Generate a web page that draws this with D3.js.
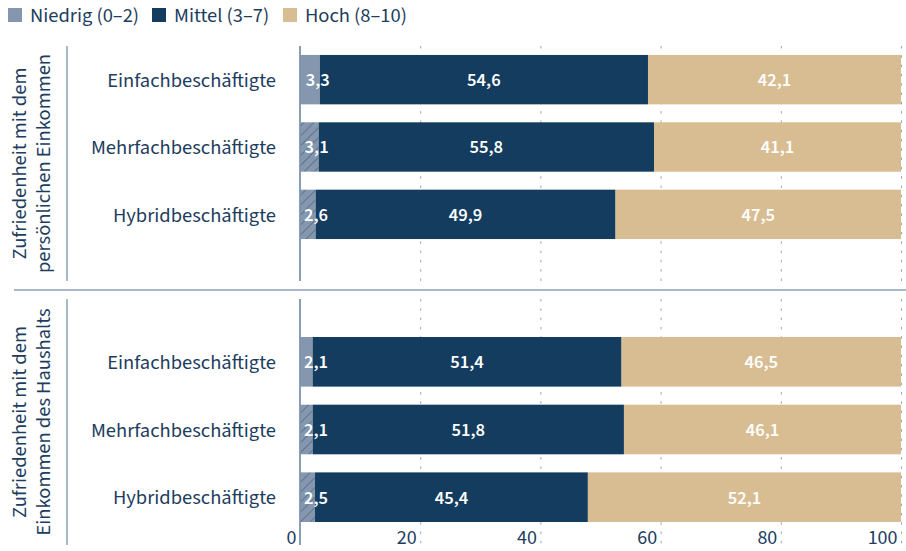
<!DOCTYPE html>
<html><head><meta charset="utf-8">
<script src="https://cdn.jsdelivr.net/npm/d3@7"></script>
<style>
html,body{margin:0;padding:0;background:#fff;}
svg{display:block;font-family:"Source Sans Pro","Source Sans 3",Lato,"Noto Sans",sans-serif;}
</style></head>
<body><svg id="chart" width="906" height="551"></svg>
<script>
const categories = ["Einfachbeschäftigte", "Mehrfachbeschäftigte", "Hybridbeschäftigte"];
const panelLabels = [["Zufriedenheit mit dem", "persönlichen Einkommen"], ["Zufriedenheit mit dem", "Einkommen des Haushalts"]];
const seriesNames = ["Niedrig (0–2)", "Mittel (3–7)", "Hoch (8–10)"];
const hatched = [false, true, true];
// panel 1: persönliches Einkommen
const niedrig1 = [3.3, 3.1, 2.6];
const mittel1 = [54.6, 55.8, 49.9];
const hoch1 = [42.1, 41.1, 47.5];
// panel 2: Einkommen des Haushalts
const niedrig2 = [2.1, 2.1, 2.5];
const mittel2 = [51.4, 51.8, 45.4];
const hoch2 = [46.5, 46.1, 52.1];
const tickValues = [0, 20, 40, 60, 80, 100];

const colors = ["#8497ae", "#133c5e", "#d8bd92"];
const textColor = "#1d3d5e";
const lineColor = "#8ea2b8";

const svg = d3.select("#chart");
const defs = svg.append("defs");
const pat = defs.append("pattern").attr("id", "hatch").attr("patternUnits", "userSpaceOnUse")
  .attr("width", 7).attr("height", 7).attr("patternTransform", "rotate(45)");
pat.append("rect").attr("width", 7).attr("height", 7).attr("fill", colors[0]);
pat.append("line").attr("x1", 0).attr("y1", 0).attr("x2", 0).attr("y2", 7)
  .attr("stroke", "#3a5674").attr("stroke-width", 1.1);

const x = d3.scaleLinear().domain([0, 100]).range([300, 901]);

const panels = [
  { labels: panelLabels[0], data: [niedrig1, mittel1, hoch1], top: 46, bottom: 281, band: [46, 248] },
  { labels: panelLabels[1], data: [niedrig2, mittel2, hoch2], top: 299, bottom: 545, band: [328, 531] }
];

// legend
const legend = svg.append("g").attr("transform", "translate(8,8)");
const legX = [0, 144, 275];
seriesNames.forEach((n, i) => {
  const g = legend.append("g").attr("transform", `translate(${legX[i]},0)`);
  g.append("rect").attr("width", 14).attr("height", 14).attr("fill", colors[i]);
  g.append("text").attr("x", 22).attr("y", 14).attr("font-size", 20.5).attr("fill", textColor).text(n);
});

// separator line
svg.append("line").attr("x1", 14).attr("x2", 906).attr("y1", 290).attr("y2", 290)
  .attr("stroke", lineColor).attr("stroke-width", 1.5);

panels.forEach((p, pi) => {
  const y = d3.scaleBand().domain(categories).range(p.band).paddingInner(0.267).paddingOuter(0.133);
  const g = svg.append("g");
  // gridlines
  g.selectAll("line.grid").data(tickValues.slice(1)).join("line")
    .attr("x1", d => x(d) + 0.5).attr("x2", d => x(d) + 0.5)
    .attr("y1", p.top).attr("y2", pi === 1 ? 548 : p.bottom)
    .attr("stroke", "#9aa6b4").attr("stroke-width", 1).attr("stroke-dasharray", "2.5,6.8");
  const rows = categories.map((c, i) => ({ cat: c, i, vals: p.data.map(s => s[i]) }));
  const labels = [];
  rows.forEach(r => {
    let acc = 0;
    r.vals.forEach((v, si) => {
      const x0 = x(acc), x1 = x(acc + v);
      g.append("rect").attr("x", x0).attr("y", y(r.cat)).attr("width", x1 - x0).attr("height", y.bandwidth())
        .attr("fill", si === 0 && hatched[r.i] ? "url(#hatch)" : colors[si]);
      let cx = (x0 + x1) / 2;
      if (si === 0) cx = Math.max(x1 - 2, x(0) + 16);
      labels.push({ cx, cy: y(r.cat) + y.bandwidth() / 2, v });
      acc += v;
    });
    // category label
    g.append("text").attr("x", 276).attr("y", y(r.cat) + y.bandwidth() / 2).attr("dy", "0.35em")
      .attr("text-anchor", "end").attr("fill", textColor).attr("font-size", 20.5).text(r.cat);
  });
  labels.forEach(l => {
    g.append("text").attr("x", l.cx).attr("y", l.cy).attr("dy", "0.35em")
      .attr("text-anchor", "middle").attr("fill", "#fff").attr("font-weight", 600).attr("font-size", 18.5)
      .text(d3.format(".1f")(l.v).replace(".", ","));
  });
  // axis line
  g.append("line").attr("x1", x(0)).attr("x2", x(0)).attr("y1", p.top).attr("y2", p.bottom)
    .attr("stroke", "#7f93ab").attr("stroke-width", 1.8);
  // panel label separator
  g.append("line").attr("x1", 67).attr("x2", 67).attr("y1", p.top).attr("y2", p.bottom)
    .attr("stroke", lineColor).attr("stroke-width", 1.5);
  // panel label
  const cy = (p.top + p.bottom) / 2;
  const t = g.append("text").attr("transform", `translate(0,${cy}) rotate(-90)`)
    .attr("text-anchor", "middle").attr("fill", textColor).attr("font-size", 20.5);
  t.append("tspan").attr("x", 0).attr("y", 26).text(p.labels[0]);
  t.append("tspan").attr("x", 0).attr("y", 50).text(p.labels[1]);
});

// x axis
const axis = d3.axisBottom(x).tickValues(tickValues).tickSize(0).tickPadding(0);
const ax = svg.append("g").attr("transform", "translate(0,544)").call(axis);
ax.select(".domain").remove();
ax.attr("font-family", null).attr("font-size", null);
ax.selectAll("text").attr("text-anchor", "end").attr("dx", -4).attr("dy", 0)
  .attr("font-size", 20).attr("fill", textColor);
</script></body></html>
